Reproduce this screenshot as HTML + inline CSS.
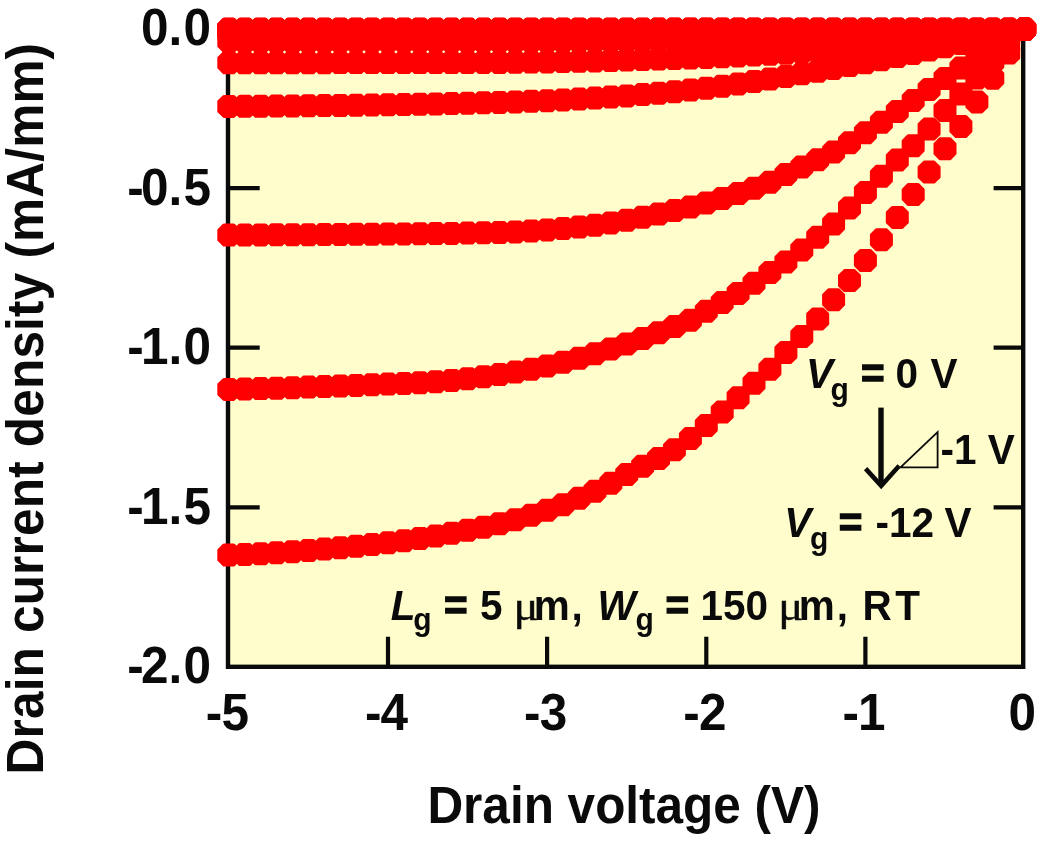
<!DOCTYPE html>
<html lang="en">
<head>
<meta charset="utf-8">
<title>Drain current density vs drain voltage</title>
<style>
html,body{margin:0;padding:0;background:#fff;}
body{width:1050px;height:842px;overflow:hidden;}
svg{display:block;}
</style>
</head>
<body>
<svg width="1050" height="842" viewBox="0 0 1050 842" font-family="'Liberation Sans', Arial, sans-serif"><rect x="0" y="0" width="1050" height="842" fill="#ffffff"/>
<rect x="228.0" y="28.7" width="795.2" height="638.1" fill="#FFFDCB" stroke="#0a0a0a" stroke-width="4.4"/>
<path d="M228.0 188.2h31.7M1023.2 188.2h-29.6M228.0 347.7h31.7M1023.2 347.7h-29.6M228.0 507.3h31.7M1023.2 507.3h-29.6M865.4 666.8v-30M865.4 28.7v30M706.3 666.8v-30M706.3 28.7v30M547.1 666.8v-30M547.1 28.7v30M388.0 666.8v-30M388.0 28.7v30" stroke="#0a0a0a" stroke-width="4.2" fill="none"/>
<g fill="#FE0000" stroke="#FE0000" stroke-width="3.6" stroke-linejoin="round"><path d="M224.0 19.5h9.60l4.90 4.90v9.60l-4.90 4.90h-9.60l-4.90 -4.90v-9.60zM239.9 19.5h9.60l4.90 4.90v9.60l-4.90 4.90h-9.60l-4.90 -4.90v-9.60zM255.8 19.5h9.60l4.90 4.90v9.60l-4.90 4.90h-9.60l-4.90 -4.90v-9.60zM271.7 19.5h9.60l4.90 4.90v9.60l-4.90 4.90h-9.60l-4.90 -4.90v-9.60zM287.7 19.5h9.60l4.90 4.90v9.60l-4.90 4.90h-9.60l-4.90 -4.90v-9.60zM303.6 19.5h9.60l4.90 4.90v9.60l-4.90 4.90h-9.60l-4.90 -4.90v-9.60zM319.5 19.5h9.60l4.90 4.90v9.60l-4.90 4.90h-9.60l-4.90 -4.90v-9.60zM335.4 19.5h9.60l4.90 4.90v9.60l-4.90 4.90h-9.60l-4.90 -4.90v-9.60zM351.3 19.5h9.60l4.90 4.90v9.60l-4.90 4.90h-9.60l-4.90 -4.90v-9.60zM367.2 19.5h9.60l4.90 4.90v9.60l-4.90 4.90h-9.60l-4.90 -4.90v-9.60zM383.2 19.5h9.60l4.90 4.90v9.60l-4.90 4.90h-9.60l-4.90 -4.90v-9.60zM399.1 19.5h9.60l4.90 4.90v9.60l-4.90 4.90h-9.60l-4.90 -4.90v-9.60zM415.0 19.5h9.60l4.90 4.90v9.60l-4.90 4.90h-9.60l-4.90 -4.90v-9.60zM430.9 19.5h9.60l4.90 4.90v9.60l-4.90 4.90h-9.60l-4.90 -4.90v-9.60zM446.8 19.5h9.60l4.90 4.90v9.60l-4.90 4.90h-9.60l-4.90 -4.90v-9.60zM462.7 19.5h9.60l4.90 4.90v9.60l-4.90 4.90h-9.60l-4.90 -4.90v-9.60zM478.7 19.5h9.60l4.90 4.90v9.60l-4.90 4.90h-9.60l-4.90 -4.90v-9.60zM494.6 19.5h9.60l4.90 4.90v9.60l-4.90 4.90h-9.60l-4.90 -4.90v-9.60zM510.5 19.5h9.60l4.90 4.90v9.60l-4.90 4.90h-9.60l-4.90 -4.90v-9.60zM526.4 19.5h9.60l4.90 4.90v9.60l-4.90 4.90h-9.60l-4.90 -4.90v-9.60zM542.3 19.5h9.60l4.90 4.90v9.60l-4.90 4.90h-9.60l-4.90 -4.90v-9.60zM558.2 19.5h9.60l4.90 4.90v9.60l-4.90 4.90h-9.60l-4.90 -4.90v-9.60zM574.2 19.5h9.60l4.90 4.90v9.60l-4.90 4.90h-9.60l-4.90 -4.90v-9.60zM590.1 19.5h9.60l4.90 4.90v9.60l-4.90 4.90h-9.60l-4.90 -4.90v-9.60zM606.0 19.5h9.60l4.90 4.90v9.60l-4.90 4.90h-9.60l-4.90 -4.90v-9.60zM621.9 19.5h9.60l4.90 4.90v9.60l-4.90 4.90h-9.60l-4.90 -4.90v-9.60zM637.8 19.5h9.60l4.90 4.90v9.60l-4.90 4.90h-9.60l-4.90 -4.90v-9.60zM653.7 19.5h9.60l4.90 4.90v9.60l-4.90 4.90h-9.60l-4.90 -4.90v-9.60zM669.6 19.5h9.60l4.90 4.90v9.60l-4.90 4.90h-9.60l-4.90 -4.90v-9.60zM685.6 19.5h9.60l4.90 4.90v9.60l-4.90 4.90h-9.60l-4.90 -4.90v-9.60zM701.5 19.5h9.60l4.90 4.90v9.60l-4.90 4.90h-9.60l-4.90 -4.90v-9.60zM717.4 19.5h9.60l4.90 4.90v9.60l-4.90 4.90h-9.60l-4.90 -4.90v-9.60zM733.3 19.5h9.60l4.90 4.90v9.60l-4.90 4.90h-9.60l-4.90 -4.90v-9.60zM749.2 19.5h9.60l4.90 4.90v9.60l-4.90 4.90h-9.60l-4.90 -4.90v-9.60zM765.1 19.5h9.60l4.90 4.90v9.60l-4.90 4.90h-9.60l-4.90 -4.90v-9.60zM781.1 19.5h9.60l4.90 4.90v9.60l-4.90 4.90h-9.60l-4.90 -4.90v-9.60zM797.0 19.5h9.60l4.90 4.90v9.60l-4.90 4.90h-9.60l-4.90 -4.90v-9.60zM812.9 19.5h9.60l4.90 4.90v9.60l-4.90 4.90h-9.60l-4.90 -4.90v-9.60zM828.8 19.5h9.60l4.90 4.90v9.60l-4.90 4.90h-9.60l-4.90 -4.90v-9.60zM844.7 19.5h9.60l4.90 4.90v9.60l-4.90 4.90h-9.60l-4.90 -4.90v-9.60zM860.6 19.5h9.60l4.90 4.90v9.60l-4.90 4.90h-9.60l-4.90 -4.90v-9.60zM876.6 19.5h9.60l4.90 4.90v9.60l-4.90 4.90h-9.60l-4.90 -4.90v-9.60zM892.5 19.5h9.60l4.90 4.90v9.60l-4.90 4.90h-9.60l-4.90 -4.90v-9.60zM908.4 19.5h9.60l4.90 4.90v9.60l-4.90 4.90h-9.60l-4.90 -4.90v-9.60zM924.3 19.5h9.60l4.90 4.90v9.60l-4.90 4.90h-9.60l-4.90 -4.90v-9.60zM940.2 19.5h9.60l4.90 4.90v9.60l-4.90 4.90h-9.60l-4.90 -4.90v-9.60zM956.1 19.5h9.60l4.90 4.90v9.60l-4.90 4.90h-9.60l-4.90 -4.90v-9.60zM972.1 19.5h9.60l4.90 4.90v9.60l-4.90 4.90h-9.60l-4.90 -4.90v-9.60zM988.0 19.5h9.60l4.90 4.90v9.60l-4.90 4.90h-9.60l-4.90 -4.90v-9.60zM1003.9 19.5h9.60l4.90 4.90v9.60l-4.90 4.90h-9.60l-4.90 -4.90v-9.60zM1019.8 19.5h9.60l4.90 4.90v9.60l-4.90 4.90h-9.60l-4.90 -4.90v-9.60z"/><path d="M224.0 19.5h9.60l4.90 4.90v9.60l-4.90 4.90h-9.60l-4.90 -4.90v-9.60zM239.9 19.5h9.60l4.90 4.90v9.60l-4.90 4.90h-9.60l-4.90 -4.90v-9.60zM255.8 19.5h9.60l4.90 4.90v9.60l-4.90 4.90h-9.60l-4.90 -4.90v-9.60zM271.7 19.5h9.60l4.90 4.90v9.60l-4.90 4.90h-9.60l-4.90 -4.90v-9.60zM287.7 19.5h9.60l4.90 4.90v9.60l-4.90 4.90h-9.60l-4.90 -4.90v-9.60zM303.6 19.5h9.60l4.90 4.90v9.60l-4.90 4.90h-9.60l-4.90 -4.90v-9.60zM319.5 19.5h9.60l4.90 4.90v9.60l-4.90 4.90h-9.60l-4.90 -4.90v-9.60zM335.4 19.5h9.60l4.90 4.90v9.60l-4.90 4.90h-9.60l-4.90 -4.90v-9.60zM351.3 19.5h9.60l4.90 4.90v9.60l-4.90 4.90h-9.60l-4.90 -4.90v-9.60zM367.2 19.5h9.60l4.90 4.90v9.60l-4.90 4.90h-9.60l-4.90 -4.90v-9.60zM383.2 19.5h9.60l4.90 4.90v9.60l-4.90 4.90h-9.60l-4.90 -4.90v-9.60zM399.1 19.5h9.60l4.90 4.90v9.60l-4.90 4.90h-9.60l-4.90 -4.90v-9.60zM415.0 19.5h9.60l4.90 4.90v9.60l-4.90 4.90h-9.60l-4.90 -4.90v-9.60zM430.9 19.5h9.60l4.90 4.90v9.60l-4.90 4.90h-9.60l-4.90 -4.90v-9.60zM446.8 19.5h9.60l4.90 4.90v9.60l-4.90 4.90h-9.60l-4.90 -4.90v-9.60zM462.7 19.5h9.60l4.90 4.90v9.60l-4.90 4.90h-9.60l-4.90 -4.90v-9.60zM478.7 19.5h9.60l4.90 4.90v9.60l-4.90 4.90h-9.60l-4.90 -4.90v-9.60zM494.6 19.5h9.60l4.90 4.90v9.60l-4.90 4.90h-9.60l-4.90 -4.90v-9.60zM510.5 19.5h9.60l4.90 4.90v9.60l-4.90 4.90h-9.60l-4.90 -4.90v-9.60zM526.4 19.5h9.60l4.90 4.90v9.60l-4.90 4.90h-9.60l-4.90 -4.90v-9.60zM542.3 19.5h9.60l4.90 4.90v9.60l-4.90 4.90h-9.60l-4.90 -4.90v-9.60zM558.2 19.5h9.60l4.90 4.90v9.60l-4.90 4.90h-9.60l-4.90 -4.90v-9.60zM574.2 19.5h9.60l4.90 4.90v9.60l-4.90 4.90h-9.60l-4.90 -4.90v-9.60zM590.1 19.5h9.60l4.90 4.90v9.60l-4.90 4.90h-9.60l-4.90 -4.90v-9.60zM606.0 19.5h9.60l4.90 4.90v9.60l-4.90 4.90h-9.60l-4.90 -4.90v-9.60zM621.9 19.5h9.60l4.90 4.90v9.60l-4.90 4.90h-9.60l-4.90 -4.90v-9.60zM637.8 19.5h9.60l4.90 4.90v9.60l-4.90 4.90h-9.60l-4.90 -4.90v-9.60zM653.7 19.5h9.60l4.90 4.90v9.60l-4.90 4.90h-9.60l-4.90 -4.90v-9.60zM669.6 19.5h9.60l4.90 4.90v9.60l-4.90 4.90h-9.60l-4.90 -4.90v-9.60zM685.6 19.5h9.60l4.90 4.90v9.60l-4.90 4.90h-9.60l-4.90 -4.90v-9.60zM701.5 19.5h9.60l4.90 4.90v9.60l-4.90 4.90h-9.60l-4.90 -4.90v-9.60zM717.4 19.5h9.60l4.90 4.90v9.60l-4.90 4.90h-9.60l-4.90 -4.90v-9.60zM733.3 19.5h9.60l4.90 4.90v9.60l-4.90 4.90h-9.60l-4.90 -4.90v-9.60zM749.2 19.5h9.60l4.90 4.90v9.60l-4.90 4.90h-9.60l-4.90 -4.90v-9.60zM765.1 19.5h9.60l4.90 4.90v9.60l-4.90 4.90h-9.60l-4.90 -4.90v-9.60zM781.1 19.5h9.60l4.90 4.90v9.60l-4.90 4.90h-9.60l-4.90 -4.90v-9.60zM797.0 19.5h9.60l4.90 4.90v9.60l-4.90 4.90h-9.60l-4.90 -4.90v-9.60zM812.9 19.5h9.60l4.90 4.90v9.60l-4.90 4.90h-9.60l-4.90 -4.90v-9.60zM828.8 19.5h9.60l4.90 4.90v9.60l-4.90 4.90h-9.60l-4.90 -4.90v-9.60zM844.7 19.5h9.60l4.90 4.90v9.60l-4.90 4.90h-9.60l-4.90 -4.90v-9.60zM860.6 19.5h9.60l4.90 4.90v9.60l-4.90 4.90h-9.60l-4.90 -4.90v-9.60zM876.6 19.5h9.60l4.90 4.90v9.60l-4.90 4.90h-9.60l-4.90 -4.90v-9.60zM892.5 19.5h9.60l4.90 4.90v9.60l-4.90 4.90h-9.60l-4.90 -4.90v-9.60zM908.4 19.5h9.60l4.90 4.90v9.60l-4.90 4.90h-9.60l-4.90 -4.90v-9.60zM924.3 19.5h9.60l4.90 4.90v9.60l-4.90 4.90h-9.60l-4.90 -4.90v-9.60zM940.2 19.5h9.60l4.90 4.90v9.60l-4.90 4.90h-9.60l-4.90 -4.90v-9.60zM956.1 19.5h9.60l4.90 4.90v9.60l-4.90 4.90h-9.60l-4.90 -4.90v-9.60zM972.1 19.5h9.60l4.90 4.90v9.60l-4.90 4.90h-9.60l-4.90 -4.90v-9.60zM988.0 19.5h9.60l4.90 4.90v9.60l-4.90 4.90h-9.60l-4.90 -4.90v-9.60zM1003.9 19.5h9.60l4.90 4.90v9.60l-4.90 4.90h-9.60l-4.90 -4.90v-9.60zM1019.8 19.5h9.60l4.90 4.90v9.60l-4.90 4.90h-9.60l-4.90 -4.90v-9.60z"/><path d="M224.0 19.5h9.60l4.90 4.90v9.60l-4.90 4.90h-9.60l-4.90 -4.90v-9.60zM239.9 19.5h9.60l4.90 4.90v9.60l-4.90 4.90h-9.60l-4.90 -4.90v-9.60zM255.8 19.5h9.60l4.90 4.90v9.60l-4.90 4.90h-9.60l-4.90 -4.90v-9.60zM271.7 19.5h9.60l4.90 4.90v9.60l-4.90 4.90h-9.60l-4.90 -4.90v-9.60zM287.7 19.5h9.60l4.90 4.90v9.60l-4.90 4.90h-9.60l-4.90 -4.90v-9.60zM303.6 19.5h9.60l4.90 4.90v9.60l-4.90 4.90h-9.60l-4.90 -4.90v-9.60zM319.5 19.5h9.60l4.90 4.90v9.60l-4.90 4.90h-9.60l-4.90 -4.90v-9.60zM335.4 19.5h9.60l4.90 4.90v9.60l-4.90 4.90h-9.60l-4.90 -4.90v-9.60zM351.3 19.5h9.60l4.90 4.90v9.60l-4.90 4.90h-9.60l-4.90 -4.90v-9.60zM367.2 19.5h9.60l4.90 4.90v9.60l-4.90 4.90h-9.60l-4.90 -4.90v-9.60zM383.2 19.5h9.60l4.90 4.90v9.60l-4.90 4.90h-9.60l-4.90 -4.90v-9.60zM399.1 19.5h9.60l4.90 4.90v9.60l-4.90 4.90h-9.60l-4.90 -4.90v-9.60zM415.0 19.5h9.60l4.90 4.90v9.60l-4.90 4.90h-9.60l-4.90 -4.90v-9.60zM430.9 19.5h9.60l4.90 4.90v9.60l-4.90 4.90h-9.60l-4.90 -4.90v-9.60zM446.8 19.5h9.60l4.90 4.90v9.60l-4.90 4.90h-9.60l-4.90 -4.90v-9.60zM462.7 19.5h9.60l4.90 4.90v9.60l-4.90 4.90h-9.60l-4.90 -4.90v-9.60zM478.7 19.5h9.60l4.90 4.90v9.60l-4.90 4.90h-9.60l-4.90 -4.90v-9.60zM494.6 19.5h9.60l4.90 4.90v9.60l-4.90 4.90h-9.60l-4.90 -4.90v-9.60zM510.5 19.5h9.60l4.90 4.90v9.60l-4.90 4.90h-9.60l-4.90 -4.90v-9.60zM526.4 19.5h9.60l4.90 4.90v9.60l-4.90 4.90h-9.60l-4.90 -4.90v-9.60zM542.3 19.5h9.60l4.90 4.90v9.60l-4.90 4.90h-9.60l-4.90 -4.90v-9.60zM558.2 19.5h9.60l4.90 4.90v9.60l-4.90 4.90h-9.60l-4.90 -4.90v-9.60zM574.2 19.5h9.60l4.90 4.90v9.60l-4.90 4.90h-9.60l-4.90 -4.90v-9.60zM590.1 19.5h9.60l4.90 4.90v9.60l-4.90 4.90h-9.60l-4.90 -4.90v-9.60zM606.0 19.5h9.60l4.90 4.90v9.60l-4.90 4.90h-9.60l-4.90 -4.90v-9.60zM621.9 19.5h9.60l4.90 4.90v9.60l-4.90 4.90h-9.60l-4.90 -4.90v-9.60zM637.8 19.5h9.60l4.90 4.90v9.60l-4.90 4.90h-9.60l-4.90 -4.90v-9.60zM653.7 19.5h9.60l4.90 4.90v9.60l-4.90 4.90h-9.60l-4.90 -4.90v-9.60zM669.6 19.5h9.60l4.90 4.90v9.60l-4.90 4.90h-9.60l-4.90 -4.90v-9.60zM685.6 19.5h9.60l4.90 4.90v9.60l-4.90 4.90h-9.60l-4.90 -4.90v-9.60zM701.5 19.5h9.60l4.90 4.90v9.60l-4.90 4.90h-9.60l-4.90 -4.90v-9.60zM717.4 19.5h9.60l4.90 4.90v9.60l-4.90 4.90h-9.60l-4.90 -4.90v-9.60zM733.3 19.5h9.60l4.90 4.90v9.60l-4.90 4.90h-9.60l-4.90 -4.90v-9.60zM749.2 19.5h9.60l4.90 4.90v9.60l-4.90 4.90h-9.60l-4.90 -4.90v-9.60zM765.1 19.5h9.60l4.90 4.90v9.60l-4.90 4.90h-9.60l-4.90 -4.90v-9.60zM781.1 19.5h9.60l4.90 4.90v9.60l-4.90 4.90h-9.60l-4.90 -4.90v-9.60zM797.0 19.5h9.60l4.90 4.90v9.60l-4.90 4.90h-9.60l-4.90 -4.90v-9.60zM812.9 19.5h9.60l4.90 4.90v9.60l-4.90 4.90h-9.60l-4.90 -4.90v-9.60zM828.8 19.5h9.60l4.90 4.90v9.60l-4.90 4.90h-9.60l-4.90 -4.90v-9.60zM844.7 19.5h9.60l4.90 4.90v9.60l-4.90 4.90h-9.60l-4.90 -4.90v-9.60zM860.6 19.5h9.60l4.90 4.90v9.60l-4.90 4.90h-9.60l-4.90 -4.90v-9.60zM876.6 19.5h9.60l4.90 4.90v9.60l-4.90 4.90h-9.60l-4.90 -4.90v-9.60zM892.5 19.5h9.60l4.90 4.90v9.60l-4.90 4.90h-9.60l-4.90 -4.90v-9.60zM908.4 19.5h9.60l4.90 4.90v9.60l-4.90 4.90h-9.60l-4.90 -4.90v-9.60zM924.3 19.5h9.60l4.90 4.90v9.60l-4.90 4.90h-9.60l-4.90 -4.90v-9.60zM940.2 19.5h9.60l4.90 4.90v9.60l-4.90 4.90h-9.60l-4.90 -4.90v-9.60zM956.1 19.5h9.60l4.90 4.90v9.60l-4.90 4.90h-9.60l-4.90 -4.90v-9.60zM972.1 19.5h9.60l4.90 4.90v9.60l-4.90 4.90h-9.60l-4.90 -4.90v-9.60zM988.0 19.5h9.60l4.90 4.90v9.60l-4.90 4.90h-9.60l-4.90 -4.90v-9.60zM1003.9 19.5h9.60l4.90 4.90v9.60l-4.90 4.90h-9.60l-4.90 -4.90v-9.60zM1019.8 19.5h9.60l4.90 4.90v9.60l-4.90 4.90h-9.60l-4.90 -4.90v-9.60z"/><path d="M224.0 19.8h9.60l4.90 4.90v9.60l-4.90 4.90h-9.60l-4.90 -4.90v-9.60zM239.9 19.8h9.60l4.90 4.90v9.60l-4.90 4.90h-9.60l-4.90 -4.90v-9.60zM255.8 19.8h9.60l4.90 4.90v9.60l-4.90 4.90h-9.60l-4.90 -4.90v-9.60zM271.7 19.8h9.60l4.90 4.90v9.60l-4.90 4.90h-9.60l-4.90 -4.90v-9.60zM287.7 19.8h9.60l4.90 4.90v9.60l-4.90 4.90h-9.60l-4.90 -4.90v-9.60zM303.6 19.8h9.60l4.90 4.90v9.60l-4.90 4.90h-9.60l-4.90 -4.90v-9.60zM319.5 19.8h9.60l4.90 4.90v9.60l-4.90 4.90h-9.60l-4.90 -4.90v-9.60zM335.4 19.8h9.60l4.90 4.90v9.60l-4.90 4.90h-9.60l-4.90 -4.90v-9.60zM351.3 19.8h9.60l4.90 4.90v9.60l-4.90 4.90h-9.60l-4.90 -4.90v-9.60zM367.2 19.8h9.60l4.90 4.90v9.60l-4.90 4.90h-9.60l-4.90 -4.90v-9.60zM383.2 19.8h9.60l4.90 4.90v9.60l-4.90 4.90h-9.60l-4.90 -4.90v-9.60zM399.1 19.7h9.60l4.90 4.90v9.60l-4.90 4.90h-9.60l-4.90 -4.90v-9.60zM415.0 19.7h9.60l4.90 4.90v9.60l-4.90 4.90h-9.60l-4.90 -4.90v-9.60zM430.9 19.7h9.60l4.90 4.90v9.60l-4.90 4.90h-9.60l-4.90 -4.90v-9.60zM446.8 19.7h9.60l4.90 4.90v9.60l-4.90 4.90h-9.60l-4.90 -4.90v-9.60zM462.7 19.7h9.60l4.90 4.90v9.60l-4.90 4.90h-9.60l-4.90 -4.90v-9.60zM478.7 19.7h9.60l4.90 4.90v9.60l-4.90 4.90h-9.60l-4.90 -4.90v-9.60zM494.6 19.7h9.60l4.90 4.90v9.60l-4.90 4.90h-9.60l-4.90 -4.90v-9.60zM510.5 19.7h9.60l4.90 4.90v9.60l-4.90 4.90h-9.60l-4.90 -4.90v-9.60zM526.4 19.7h9.60l4.90 4.90v9.60l-4.90 4.90h-9.60l-4.90 -4.90v-9.60zM542.3 19.7h9.60l4.90 4.90v9.60l-4.90 4.90h-9.60l-4.90 -4.90v-9.60zM558.2 19.7h9.60l4.90 4.90v9.60l-4.90 4.90h-9.60l-4.90 -4.90v-9.60zM574.2 19.7h9.60l4.90 4.90v9.60l-4.90 4.90h-9.60l-4.90 -4.90v-9.60zM590.1 19.7h9.60l4.90 4.90v9.60l-4.90 4.90h-9.60l-4.90 -4.90v-9.60zM606.0 19.7h9.60l4.90 4.90v9.60l-4.90 4.90h-9.60l-4.90 -4.90v-9.60zM621.9 19.7h9.60l4.90 4.90v9.60l-4.90 4.90h-9.60l-4.90 -4.90v-9.60zM637.8 19.7h9.60l4.90 4.90v9.60l-4.90 4.90h-9.60l-4.90 -4.90v-9.60zM653.7 19.6h9.60l4.90 4.90v9.60l-4.90 4.90h-9.60l-4.90 -4.90v-9.60zM669.6 19.6h9.60l4.90 4.90v9.60l-4.90 4.90h-9.60l-4.90 -4.90v-9.60zM685.6 19.6h9.60l4.90 4.90v9.60l-4.90 4.90h-9.60l-4.90 -4.90v-9.60zM701.5 19.6h9.60l4.90 4.90v9.60l-4.90 4.90h-9.60l-4.90 -4.90v-9.60zM717.4 19.6h9.60l4.90 4.90v9.60l-4.90 4.90h-9.60l-4.90 -4.90v-9.60zM733.3 19.6h9.60l4.90 4.90v9.60l-4.90 4.90h-9.60l-4.90 -4.90v-9.60zM749.2 19.6h9.60l4.90 4.90v9.60l-4.90 4.90h-9.60l-4.90 -4.90v-9.60zM765.1 19.6h9.60l4.90 4.90v9.60l-4.90 4.90h-9.60l-4.90 -4.90v-9.60zM781.1 19.6h9.60l4.90 4.90v9.60l-4.90 4.90h-9.60l-4.90 -4.90v-9.60zM797.0 19.6h9.60l4.90 4.90v9.60l-4.90 4.90h-9.60l-4.90 -4.90v-9.60zM812.9 19.6h9.60l4.90 4.90v9.60l-4.90 4.90h-9.60l-4.90 -4.90v-9.60zM828.8 19.6h9.60l4.90 4.90v9.60l-4.90 4.90h-9.60l-4.90 -4.90v-9.60zM844.7 19.6h9.60l4.90 4.90v9.60l-4.90 4.90h-9.60l-4.90 -4.90v-9.60zM860.6 19.6h9.60l4.90 4.90v9.60l-4.90 4.90h-9.60l-4.90 -4.90v-9.60zM876.6 19.6h9.60l4.90 4.90v9.60l-4.90 4.90h-9.60l-4.90 -4.90v-9.60zM892.5 19.6h9.60l4.90 4.90v9.60l-4.90 4.90h-9.60l-4.90 -4.90v-9.60zM908.4 19.5h9.60l4.90 4.90v9.60l-4.90 4.90h-9.60l-4.90 -4.90v-9.60zM924.3 19.5h9.60l4.90 4.90v9.60l-4.90 4.90h-9.60l-4.90 -4.90v-9.60zM940.2 19.5h9.60l4.90 4.90v9.60l-4.90 4.90h-9.60l-4.90 -4.90v-9.60zM956.1 19.5h9.60l4.90 4.90v9.60l-4.90 4.90h-9.60l-4.90 -4.90v-9.60zM972.1 19.5h9.60l4.90 4.90v9.60l-4.90 4.90h-9.60l-4.90 -4.90v-9.60zM988.0 19.5h9.60l4.90 4.90v9.60l-4.90 4.90h-9.60l-4.90 -4.90v-9.60zM1003.9 19.5h9.60l4.90 4.90v9.60l-4.90 4.90h-9.60l-4.90 -4.90v-9.60zM1019.8 19.5h9.60l4.90 4.90v9.60l-4.90 4.90h-9.60l-4.90 -4.90v-9.60z"/><path d="M224.0 20.1h9.60l4.90 4.90v9.60l-4.90 4.90h-9.60l-4.90 -4.90v-9.60zM239.9 20.1h9.60l4.90 4.90v9.60l-4.90 4.90h-9.60l-4.90 -4.90v-9.60zM255.8 20.1h9.60l4.90 4.90v9.60l-4.90 4.90h-9.60l-4.90 -4.90v-9.60zM271.7 20.1h9.60l4.90 4.90v9.60l-4.90 4.90h-9.60l-4.90 -4.90v-9.60zM287.7 20.1h9.60l4.90 4.90v9.60l-4.90 4.90h-9.60l-4.90 -4.90v-9.60zM303.6 20.1h9.60l4.90 4.90v9.60l-4.90 4.90h-9.60l-4.90 -4.90v-9.60zM319.5 20.1h9.60l4.90 4.90v9.60l-4.90 4.90h-9.60l-4.90 -4.90v-9.60zM335.4 20.1h9.60l4.90 4.90v9.60l-4.90 4.90h-9.60l-4.90 -4.90v-9.60zM351.3 20.1h9.60l4.90 4.90v9.60l-4.90 4.90h-9.60l-4.90 -4.90v-9.60zM367.2 20.1h9.60l4.90 4.90v9.60l-4.90 4.90h-9.60l-4.90 -4.90v-9.60zM383.2 20.1h9.60l4.90 4.90v9.60l-4.90 4.90h-9.60l-4.90 -4.90v-9.60zM399.1 20.1h9.60l4.90 4.90v9.60l-4.90 4.90h-9.60l-4.90 -4.90v-9.60zM415.0 20.1h9.60l4.90 4.90v9.60l-4.90 4.90h-9.60l-4.90 -4.90v-9.60zM430.9 20.1h9.60l4.90 4.90v9.60l-4.90 4.90h-9.60l-4.90 -4.90v-9.60zM446.8 20.1h9.60l4.90 4.90v9.60l-4.90 4.90h-9.60l-4.90 -4.90v-9.60zM462.7 20.1h9.60l4.90 4.90v9.60l-4.90 4.90h-9.60l-4.90 -4.90v-9.60zM478.7 20.1h9.60l4.90 4.90v9.60l-4.90 4.90h-9.60l-4.90 -4.90v-9.60zM494.6 20.1h9.60l4.90 4.90v9.60l-4.90 4.90h-9.60l-4.90 -4.90v-9.60zM510.5 20.1h9.60l4.90 4.90v9.60l-4.90 4.90h-9.60l-4.90 -4.90v-9.60zM526.4 20.1h9.60l4.90 4.90v9.60l-4.90 4.90h-9.60l-4.90 -4.90v-9.60zM542.3 20.1h9.60l4.90 4.90v9.60l-4.90 4.90h-9.60l-4.90 -4.90v-9.60zM558.2 20.1h9.60l4.90 4.90v9.60l-4.90 4.90h-9.60l-4.90 -4.90v-9.60zM574.2 20.1h9.60l4.90 4.90v9.60l-4.90 4.90h-9.60l-4.90 -4.90v-9.60zM590.1 20.1h9.60l4.90 4.90v9.60l-4.90 4.90h-9.60l-4.90 -4.90v-9.60zM606.0 20.1h9.60l4.90 4.90v9.60l-4.90 4.90h-9.60l-4.90 -4.90v-9.60zM621.9 20.1h9.60l4.90 4.90v9.60l-4.90 4.90h-9.60l-4.90 -4.90v-9.60zM637.8 20.1h9.60l4.90 4.90v9.60l-4.90 4.90h-9.60l-4.90 -4.90v-9.60zM653.7 20.1h9.60l4.90 4.90v9.60l-4.90 4.90h-9.60l-4.90 -4.90v-9.60zM669.6 20.1h9.60l4.90 4.90v9.60l-4.90 4.90h-9.60l-4.90 -4.90v-9.60zM685.6 20.1h9.60l4.90 4.90v9.60l-4.90 4.90h-9.60l-4.90 -4.90v-9.60zM701.5 20.1h9.60l4.90 4.90v9.60l-4.90 4.90h-9.60l-4.90 -4.90v-9.60zM717.4 20.1h9.60l4.90 4.90v9.60l-4.90 4.90h-9.60l-4.90 -4.90v-9.60zM733.3 20.1h9.60l4.90 4.90v9.60l-4.90 4.90h-9.60l-4.90 -4.90v-9.60zM749.2 20.1h9.60l4.90 4.90v9.60l-4.90 4.90h-9.60l-4.90 -4.90v-9.60zM765.1 20.1h9.60l4.90 4.90v9.60l-4.90 4.90h-9.60l-4.90 -4.90v-9.60zM781.1 20.1h9.60l4.90 4.90v9.60l-4.90 4.90h-9.60l-4.90 -4.90v-9.60zM797.0 20.1h9.60l4.90 4.90v9.60l-4.90 4.90h-9.60l-4.90 -4.90v-9.60zM812.9 20.0h9.60l4.90 4.90v9.60l-4.90 4.90h-9.60l-4.90 -4.90v-9.60zM828.8 20.0h9.60l4.90 4.90v9.60l-4.90 4.90h-9.60l-4.90 -4.90v-9.60zM844.7 20.0h9.60l4.90 4.90v9.60l-4.90 4.90h-9.60l-4.90 -4.90v-9.60zM860.6 19.9h9.60l4.90 4.90v9.60l-4.90 4.90h-9.60l-4.90 -4.90v-9.60zM876.6 19.9h9.60l4.90 4.90v9.60l-4.90 4.90h-9.60l-4.90 -4.90v-9.60zM892.5 19.9h9.60l4.90 4.90v9.60l-4.90 4.90h-9.60l-4.90 -4.90v-9.60zM908.4 19.8h9.60l4.90 4.90v9.60l-4.90 4.90h-9.60l-4.90 -4.90v-9.60zM924.3 19.8h9.60l4.90 4.90v9.60l-4.90 4.90h-9.60l-4.90 -4.90v-9.60zM940.2 19.7h9.60l4.90 4.90v9.60l-4.90 4.90h-9.60l-4.90 -4.90v-9.60zM956.1 19.7h9.60l4.90 4.90v9.60l-4.90 4.90h-9.60l-4.90 -4.90v-9.60zM972.1 19.6h9.60l4.90 4.90v9.60l-4.90 4.90h-9.60l-4.90 -4.90v-9.60zM988.0 19.6h9.60l4.90 4.90v9.60l-4.90 4.90h-9.60l-4.90 -4.90v-9.60zM1003.9 19.5h9.60l4.90 4.90v9.60l-4.90 4.90h-9.60l-4.90 -4.90v-9.60zM1019.8 19.5h9.60l4.90 4.90v9.60l-4.90 4.90h-9.60l-4.90 -4.90v-9.60z"/><path d="M224.0 21.1h9.60l4.90 4.90v9.60l-4.90 4.90h-9.60l-4.90 -4.90v-9.60zM239.9 21.1h9.60l4.90 4.90v9.60l-4.90 4.90h-9.60l-4.90 -4.90v-9.60zM255.8 21.1h9.60l4.90 4.90v9.60l-4.90 4.90h-9.60l-4.90 -4.90v-9.60zM271.7 21.1h9.60l4.90 4.90v9.60l-4.90 4.90h-9.60l-4.90 -4.90v-9.60zM287.7 21.1h9.60l4.90 4.90v9.60l-4.90 4.90h-9.60l-4.90 -4.90v-9.60zM303.6 21.1h9.60l4.90 4.90v9.60l-4.90 4.90h-9.60l-4.90 -4.90v-9.60zM319.5 21.1h9.60l4.90 4.90v9.60l-4.90 4.90h-9.60l-4.90 -4.90v-9.60zM335.4 21.1h9.60l4.90 4.90v9.60l-4.90 4.90h-9.60l-4.90 -4.90v-9.60zM351.3 21.1h9.60l4.90 4.90v9.60l-4.90 4.90h-9.60l-4.90 -4.90v-9.60zM367.2 21.1h9.60l4.90 4.90v9.60l-4.90 4.90h-9.60l-4.90 -4.90v-9.60zM383.2 21.1h9.60l4.90 4.90v9.60l-4.90 4.90h-9.60l-4.90 -4.90v-9.60zM399.1 21.0h9.60l4.90 4.90v9.60l-4.90 4.90h-9.60l-4.90 -4.90v-9.60zM415.0 21.0h9.60l4.90 4.90v9.60l-4.90 4.90h-9.60l-4.90 -4.90v-9.60zM430.9 21.0h9.60l4.90 4.90v9.60l-4.90 4.90h-9.60l-4.90 -4.90v-9.60zM446.8 21.0h9.60l4.90 4.90v9.60l-4.90 4.90h-9.60l-4.90 -4.90v-9.60zM462.7 21.0h9.60l4.90 4.90v9.60l-4.90 4.90h-9.60l-4.90 -4.90v-9.60zM478.7 21.0h9.60l4.90 4.90v9.60l-4.90 4.90h-9.60l-4.90 -4.90v-9.60zM494.6 21.0h9.60l4.90 4.90v9.60l-4.90 4.90h-9.60l-4.90 -4.90v-9.60zM510.5 21.0h9.60l4.90 4.90v9.60l-4.90 4.90h-9.60l-4.90 -4.90v-9.60zM526.4 21.0h9.60l4.90 4.90v9.60l-4.90 4.90h-9.60l-4.90 -4.90v-9.60zM542.3 20.9h9.60l4.90 4.90v9.60l-4.90 4.90h-9.60l-4.90 -4.90v-9.60zM558.2 20.9h9.60l4.90 4.90v9.60l-4.90 4.90h-9.60l-4.90 -4.90v-9.60zM574.2 20.9h9.60l4.90 4.90v9.60l-4.90 4.90h-9.60l-4.90 -4.90v-9.60zM590.1 20.9h9.60l4.90 4.90v9.60l-4.90 4.90h-9.60l-4.90 -4.90v-9.60zM606.0 20.9h9.60l4.90 4.90v9.60l-4.90 4.90h-9.60l-4.90 -4.90v-9.60zM621.9 20.9h9.60l4.90 4.90v9.60l-4.90 4.90h-9.60l-4.90 -4.90v-9.60zM637.8 20.8h9.60l4.90 4.90v9.60l-4.90 4.90h-9.60l-4.90 -4.90v-9.60zM653.7 20.8h9.60l4.90 4.90v9.60l-4.90 4.90h-9.60l-4.90 -4.90v-9.60zM669.6 20.8h9.60l4.90 4.90v9.60l-4.90 4.90h-9.60l-4.90 -4.90v-9.60zM685.6 20.8h9.60l4.90 4.90v9.60l-4.90 4.90h-9.60l-4.90 -4.90v-9.60zM701.5 20.8h9.60l4.90 4.90v9.60l-4.90 4.90h-9.60l-4.90 -4.90v-9.60zM717.4 20.8h9.60l4.90 4.90v9.60l-4.90 4.90h-9.60l-4.90 -4.90v-9.60zM733.3 20.7h9.60l4.90 4.90v9.60l-4.90 4.90h-9.60l-4.90 -4.90v-9.60zM749.2 20.7h9.60l4.90 4.90v9.60l-4.90 4.90h-9.60l-4.90 -4.90v-9.60zM765.1 20.6h9.60l4.90 4.90v9.60l-4.90 4.90h-9.60l-4.90 -4.90v-9.60zM781.1 20.6h9.60l4.90 4.90v9.60l-4.90 4.90h-9.60l-4.90 -4.90v-9.60zM797.0 20.6h9.60l4.90 4.90v9.60l-4.90 4.90h-9.60l-4.90 -4.90v-9.60zM812.9 20.5h9.60l4.90 4.90v9.60l-4.90 4.90h-9.60l-4.90 -4.90v-9.60zM828.8 20.4h9.60l4.90 4.90v9.60l-4.90 4.90h-9.60l-4.90 -4.90v-9.60zM844.7 20.4h9.60l4.90 4.90v9.60l-4.90 4.90h-9.60l-4.90 -4.90v-9.60zM860.6 20.3h9.60l4.90 4.90v9.60l-4.90 4.90h-9.60l-4.90 -4.90v-9.60zM876.6 20.2h9.60l4.90 4.90v9.60l-4.90 4.90h-9.60l-4.90 -4.90v-9.60zM892.5 20.2h9.60l4.90 4.90v9.60l-4.90 4.90h-9.60l-4.90 -4.90v-9.60zM908.4 20.1h9.60l4.90 4.90v9.60l-4.90 4.90h-9.60l-4.90 -4.90v-9.60zM924.3 20.0h9.60l4.90 4.90v9.60l-4.90 4.90h-9.60l-4.90 -4.90v-9.60zM940.2 19.9h9.60l4.90 4.90v9.60l-4.90 4.90h-9.60l-4.90 -4.90v-9.60zM956.1 19.8h9.60l4.90 4.90v9.60l-4.90 4.90h-9.60l-4.90 -4.90v-9.60zM972.1 19.8h9.60l4.90 4.90v9.60l-4.90 4.90h-9.60l-4.90 -4.90v-9.60zM988.0 19.7h9.60l4.90 4.90v9.60l-4.90 4.90h-9.60l-4.90 -4.90v-9.60zM1003.9 19.6h9.60l4.90 4.90v9.60l-4.90 4.90h-9.60l-4.90 -4.90v-9.60zM1019.8 19.5h9.60l4.90 4.90v9.60l-4.90 4.90h-9.60l-4.90 -4.90v-9.60z"/><path d="M224.0 23.6h9.60l4.90 4.90v9.60l-4.90 4.90h-9.60l-4.90 -4.90v-9.60zM239.9 23.6h9.60l4.90 4.90v9.60l-4.90 4.90h-9.60l-4.90 -4.90v-9.60zM255.8 23.6h9.60l4.90 4.90v9.60l-4.90 4.90h-9.60l-4.90 -4.90v-9.60zM271.7 23.6h9.60l4.90 4.90v9.60l-4.90 4.90h-9.60l-4.90 -4.90v-9.60zM287.7 23.6h9.60l4.90 4.90v9.60l-4.90 4.90h-9.60l-4.90 -4.90v-9.60zM303.6 23.6h9.60l4.90 4.90v9.60l-4.90 4.90h-9.60l-4.90 -4.90v-9.60zM319.5 23.6h9.60l4.90 4.90v9.60l-4.90 4.90h-9.60l-4.90 -4.90v-9.60zM335.4 23.6h9.60l4.90 4.90v9.60l-4.90 4.90h-9.60l-4.90 -4.90v-9.60zM351.3 23.6h9.60l4.90 4.90v9.60l-4.90 4.90h-9.60l-4.90 -4.90v-9.60zM367.2 23.6h9.60l4.90 4.90v9.60l-4.90 4.90h-9.60l-4.90 -4.90v-9.60zM383.2 23.6h9.60l4.90 4.90v9.60l-4.90 4.90h-9.60l-4.90 -4.90v-9.60zM399.1 23.6h9.60l4.90 4.90v9.60l-4.90 4.90h-9.60l-4.90 -4.90v-9.60zM415.0 23.6h9.60l4.90 4.90v9.60l-4.90 4.90h-9.60l-4.90 -4.90v-9.60zM430.9 23.6h9.60l4.90 4.90v9.60l-4.90 4.90h-9.60l-4.90 -4.90v-9.60zM446.8 23.6h9.60l4.90 4.90v9.60l-4.90 4.90h-9.60l-4.90 -4.90v-9.60zM462.7 23.6h9.60l4.90 4.90v9.60l-4.90 4.90h-9.60l-4.90 -4.90v-9.60zM478.7 23.6h9.60l4.90 4.90v9.60l-4.90 4.90h-9.60l-4.90 -4.90v-9.60zM494.6 23.6h9.60l4.90 4.90v9.60l-4.90 4.90h-9.60l-4.90 -4.90v-9.60zM510.5 23.5h9.60l4.90 4.90v9.60l-4.90 4.90h-9.60l-4.90 -4.90v-9.60zM526.4 23.5h9.60l4.90 4.90v9.60l-4.90 4.90h-9.60l-4.90 -4.90v-9.60zM542.3 23.5h9.60l4.90 4.90v9.60l-4.90 4.90h-9.60l-4.90 -4.90v-9.60zM558.2 23.5h9.60l4.90 4.90v9.60l-4.90 4.90h-9.60l-4.90 -4.90v-9.60zM574.2 23.5h9.60l4.90 4.90v9.60l-4.90 4.90h-9.60l-4.90 -4.90v-9.60zM590.1 23.5h9.60l4.90 4.90v9.60l-4.90 4.90h-9.60l-4.90 -4.90v-9.60zM606.0 23.4h9.60l4.90 4.90v9.60l-4.90 4.90h-9.60l-4.90 -4.90v-9.60zM621.9 23.4h9.60l4.90 4.90v9.60l-4.90 4.90h-9.60l-4.90 -4.90v-9.60zM637.8 23.4h9.60l4.90 4.90v9.60l-4.90 4.90h-9.60l-4.90 -4.90v-9.60zM653.7 23.4h9.60l4.90 4.90v9.60l-4.90 4.90h-9.60l-4.90 -4.90v-9.60zM669.6 23.4h9.60l4.90 4.90v9.60l-4.90 4.90h-9.60l-4.90 -4.90v-9.60zM685.6 23.4h9.60l4.90 4.90v9.60l-4.90 4.90h-9.60l-4.90 -4.90v-9.60zM701.5 23.3h9.60l4.90 4.90v9.60l-4.90 4.90h-9.60l-4.90 -4.90v-9.60zM717.4 23.3h9.60l4.90 4.90v9.60l-4.90 4.90h-9.60l-4.90 -4.90v-9.60zM733.3 23.2h9.60l4.90 4.90v9.60l-4.90 4.90h-9.60l-4.90 -4.90v-9.60zM749.2 23.1h9.60l4.90 4.90v9.60l-4.90 4.90h-9.60l-4.90 -4.90v-9.60zM765.1 23.0h9.60l4.90 4.90v9.60l-4.90 4.90h-9.60l-4.90 -4.90v-9.60zM781.1 22.9h9.60l4.90 4.90v9.60l-4.90 4.90h-9.60l-4.90 -4.90v-9.60zM797.0 22.7h9.60l4.90 4.90v9.60l-4.90 4.90h-9.60l-4.90 -4.90v-9.60zM812.9 22.6h9.60l4.90 4.90v9.60l-4.90 4.90h-9.60l-4.90 -4.90v-9.60zM828.8 22.4h9.60l4.90 4.90v9.60l-4.90 4.90h-9.60l-4.90 -4.90v-9.60zM844.7 22.2h9.60l4.90 4.90v9.60l-4.90 4.90h-9.60l-4.90 -4.90v-9.60zM860.6 22.1h9.60l4.90 4.90v9.60l-4.90 4.90h-9.60l-4.90 -4.90v-9.60zM876.6 21.9h9.60l4.90 4.90v9.60l-4.90 4.90h-9.60l-4.90 -4.90v-9.60zM892.5 21.7h9.60l4.90 4.90v9.60l-4.90 4.90h-9.60l-4.90 -4.90v-9.60zM908.4 21.5h9.60l4.90 4.90v9.60l-4.90 4.90h-9.60l-4.90 -4.90v-9.60zM924.3 21.2h9.60l4.90 4.90v9.60l-4.90 4.90h-9.60l-4.90 -4.90v-9.60zM940.2 21.0h9.60l4.90 4.90v9.60l-4.90 4.90h-9.60l-4.90 -4.90v-9.60zM956.1 20.7h9.60l4.90 4.90v9.60l-4.90 4.90h-9.60l-4.90 -4.90v-9.60zM972.1 20.4h9.60l4.90 4.90v9.60l-4.90 4.90h-9.60l-4.90 -4.90v-9.60zM988.0 20.1h9.60l4.90 4.90v9.60l-4.90 4.90h-9.60l-4.90 -4.90v-9.60zM1003.9 19.8h9.60l4.90 4.90v9.60l-4.90 4.90h-9.60l-4.90 -4.90v-9.60zM1019.8 19.5h9.60l4.90 4.90v9.60l-4.90 4.90h-9.60l-4.90 -4.90v-9.60z"/><path d="M224.0 31.5h9.60l4.90 4.90v9.60l-4.90 4.90h-9.60l-4.90 -4.90v-9.60zM239.9 31.5h9.60l4.90 4.90v9.60l-4.90 4.90h-9.60l-4.90 -4.90v-9.60zM255.8 31.5h9.60l4.90 4.90v9.60l-4.90 4.90h-9.60l-4.90 -4.90v-9.60zM271.7 31.5h9.60l4.90 4.90v9.60l-4.90 4.90h-9.60l-4.90 -4.90v-9.60zM287.7 31.5h9.60l4.90 4.90v9.60l-4.90 4.90h-9.60l-4.90 -4.90v-9.60zM303.6 31.5h9.60l4.90 4.90v9.60l-4.90 4.90h-9.60l-4.90 -4.90v-9.60zM319.5 31.5h9.60l4.90 4.90v9.60l-4.90 4.90h-9.60l-4.90 -4.90v-9.60zM335.4 31.4h9.60l4.90 4.90v9.60l-4.90 4.90h-9.60l-4.90 -4.90v-9.60zM351.3 31.4h9.60l4.90 4.90v9.60l-4.90 4.90h-9.60l-4.90 -4.90v-9.60zM367.2 31.4h9.60l4.90 4.90v9.60l-4.90 4.90h-9.60l-4.90 -4.90v-9.60zM383.2 31.4h9.60l4.90 4.90v9.60l-4.90 4.90h-9.60l-4.90 -4.90v-9.60zM399.1 31.4h9.60l4.90 4.90v9.60l-4.90 4.90h-9.60l-4.90 -4.90v-9.60zM415.0 31.4h9.60l4.90 4.90v9.60l-4.90 4.90h-9.60l-4.90 -4.90v-9.60zM430.9 31.4h9.60l4.90 4.90v9.60l-4.90 4.90h-9.60l-4.90 -4.90v-9.60zM446.8 31.4h9.60l4.90 4.90v9.60l-4.90 4.90h-9.60l-4.90 -4.90v-9.60zM462.7 31.4h9.60l4.90 4.90v9.60l-4.90 4.90h-9.60l-4.90 -4.90v-9.60zM478.7 31.4h9.60l4.90 4.90v9.60l-4.90 4.90h-9.60l-4.90 -4.90v-9.60zM494.6 31.4h9.60l4.90 4.90v9.60l-4.90 4.90h-9.60l-4.90 -4.90v-9.60zM510.5 31.3h9.60l4.90 4.90v9.60l-4.90 4.90h-9.60l-4.90 -4.90v-9.60zM526.4 31.3h9.60l4.90 4.90v9.60l-4.90 4.90h-9.60l-4.90 -4.90v-9.60zM542.3 31.3h9.60l4.90 4.90v9.60l-4.90 4.90h-9.60l-4.90 -4.90v-9.60zM558.2 31.3h9.60l4.90 4.90v9.60l-4.90 4.90h-9.60l-4.90 -4.90v-9.60zM574.2 31.2h9.60l4.90 4.90v9.60l-4.90 4.90h-9.60l-4.90 -4.90v-9.60zM590.1 31.1h9.60l4.90 4.90v9.60l-4.90 4.90h-9.60l-4.90 -4.90v-9.60zM606.0 31.0h9.60l4.90 4.90v9.60l-4.90 4.90h-9.60l-4.90 -4.90v-9.60zM621.9 30.9h9.60l4.90 4.90v9.60l-4.90 4.90h-9.60l-4.90 -4.90v-9.60zM637.8 30.7h9.60l4.90 4.90v9.60l-4.90 4.90h-9.60l-4.90 -4.90v-9.60zM653.7 30.6h9.60l4.90 4.90v9.60l-4.90 4.90h-9.60l-4.90 -4.90v-9.60zM669.6 30.4h9.60l4.90 4.90v9.60l-4.90 4.90h-9.60l-4.90 -4.90v-9.60zM685.6 30.2h9.60l4.90 4.90v9.60l-4.90 4.90h-9.60l-4.90 -4.90v-9.60zM701.5 30.0h9.60l4.90 4.90v9.60l-4.90 4.90h-9.60l-4.90 -4.90v-9.60zM717.4 29.8h9.60l4.90 4.90v9.60l-4.90 4.90h-9.60l-4.90 -4.90v-9.60zM733.3 29.5h9.60l4.90 4.90v9.60l-4.90 4.90h-9.60l-4.90 -4.90v-9.60zM749.2 29.2h9.60l4.90 4.90v9.60l-4.90 4.90h-9.60l-4.90 -4.90v-9.60zM765.1 28.8h9.60l4.90 4.90v9.60l-4.90 4.90h-9.60l-4.90 -4.90v-9.60zM781.1 28.3h9.60l4.90 4.90v9.60l-4.90 4.90h-9.60l-4.90 -4.90v-9.60zM797.0 27.9h9.60l4.90 4.90v9.60l-4.90 4.90h-9.60l-4.90 -4.90v-9.60zM812.9 27.4h9.60l4.90 4.90v9.60l-4.90 4.90h-9.60l-4.90 -4.90v-9.60zM828.8 26.9h9.60l4.90 4.90v9.60l-4.90 4.90h-9.60l-4.90 -4.90v-9.60zM844.7 26.4h9.60l4.90 4.90v9.60l-4.90 4.90h-9.60l-4.90 -4.90v-9.60zM860.6 25.9h9.60l4.90 4.90v9.60l-4.90 4.90h-9.60l-4.90 -4.90v-9.60zM876.6 25.4h9.60l4.90 4.90v9.60l-4.90 4.90h-9.60l-4.90 -4.90v-9.60zM892.5 24.8h9.60l4.90 4.90v9.60l-4.90 4.90h-9.60l-4.90 -4.90v-9.60zM908.4 24.2h9.60l4.90 4.90v9.60l-4.90 4.90h-9.60l-4.90 -4.90v-9.60zM924.3 23.6h9.60l4.90 4.90v9.60l-4.90 4.90h-9.60l-4.90 -4.90v-9.60zM940.2 23.0h9.60l4.90 4.90v9.60l-4.90 4.90h-9.60l-4.90 -4.90v-9.60zM956.1 22.3h9.60l4.90 4.90v9.60l-4.90 4.90h-9.60l-4.90 -4.90v-9.60zM972.1 21.7h9.60l4.90 4.90v9.60l-4.90 4.90h-9.60l-4.90 -4.90v-9.60zM988.0 21.0h9.60l4.90 4.90v9.60l-4.90 4.90h-9.60l-4.90 -4.90v-9.60zM1003.9 20.2h9.60l4.90 4.90v9.60l-4.90 4.90h-9.60l-4.90 -4.90v-9.60zM1019.8 19.5h9.60l4.90 4.90v9.60l-4.90 4.90h-9.60l-4.90 -4.90v-9.60z"/><path d="M224.0 53.0h9.60l4.90 4.90v9.60l-4.90 4.90h-9.60l-4.90 -4.90v-9.60zM239.9 53.0h9.60l4.90 4.90v9.60l-4.90 4.90h-9.60l-4.90 -4.90v-9.60zM255.8 53.0h9.60l4.90 4.90v9.60l-4.90 4.90h-9.60l-4.90 -4.90v-9.60zM271.7 53.0h9.60l4.90 4.90v9.60l-4.90 4.90h-9.60l-4.90 -4.90v-9.60zM287.7 53.0h9.60l4.90 4.90v9.60l-4.90 4.90h-9.60l-4.90 -4.90v-9.60zM303.6 53.0h9.60l4.90 4.90v9.60l-4.90 4.90h-9.60l-4.90 -4.90v-9.60zM319.5 53.0h9.60l4.90 4.90v9.60l-4.90 4.90h-9.60l-4.90 -4.90v-9.60zM335.4 52.9h9.60l4.90 4.90v9.60l-4.90 4.90h-9.60l-4.90 -4.90v-9.60zM351.3 52.9h9.60l4.90 4.90v9.60l-4.90 4.90h-9.60l-4.90 -4.90v-9.60zM367.2 52.9h9.60l4.90 4.90v9.60l-4.90 4.90h-9.60l-4.90 -4.90v-9.60zM383.2 52.9h9.60l4.90 4.90v9.60l-4.90 4.90h-9.60l-4.90 -4.90v-9.60zM399.1 52.9h9.60l4.90 4.90v9.60l-4.90 4.90h-9.60l-4.90 -4.90v-9.60zM415.0 52.8h9.60l4.90 4.90v9.60l-4.90 4.90h-9.60l-4.90 -4.90v-9.60zM430.9 52.8h9.60l4.90 4.90v9.60l-4.90 4.90h-9.60l-4.90 -4.90v-9.60zM446.8 52.8h9.60l4.90 4.90v9.60l-4.90 4.90h-9.60l-4.90 -4.90v-9.60zM462.7 52.8h9.60l4.90 4.90v9.60l-4.90 4.90h-9.60l-4.90 -4.90v-9.60zM478.7 52.7h9.60l4.90 4.90v9.60l-4.90 4.90h-9.60l-4.90 -4.90v-9.60zM494.6 52.7h9.60l4.90 4.90v9.60l-4.90 4.90h-9.60l-4.90 -4.90v-9.60zM510.5 52.6h9.60l4.90 4.90v9.60l-4.90 4.90h-9.60l-4.90 -4.90v-9.60zM526.4 52.4h9.60l4.90 4.90v9.60l-4.90 4.90h-9.60l-4.90 -4.90v-9.60zM542.3 52.2h9.60l4.90 4.90v9.60l-4.90 4.90h-9.60l-4.90 -4.90v-9.60zM558.2 51.9h9.60l4.90 4.90v9.60l-4.90 4.90h-9.60l-4.90 -4.90v-9.60zM574.2 51.6h9.60l4.90 4.90v9.60l-4.90 4.90h-9.60l-4.90 -4.90v-9.60zM590.1 51.2h9.60l4.90 4.90v9.60l-4.90 4.90h-9.60l-4.90 -4.90v-9.60zM606.0 50.8h9.60l4.90 4.90v9.60l-4.90 4.90h-9.60l-4.90 -4.90v-9.60zM621.9 50.3h9.60l4.90 4.90v9.60l-4.90 4.90h-9.60l-4.90 -4.90v-9.60zM637.8 49.9h9.60l4.90 4.90v9.60l-4.90 4.90h-9.60l-4.90 -4.90v-9.60zM653.7 49.4h9.60l4.90 4.90v9.60l-4.90 4.90h-9.60l-4.90 -4.90v-9.60zM669.6 48.9h9.60l4.90 4.90v9.60l-4.90 4.90h-9.60l-4.90 -4.90v-9.60zM685.6 48.4h9.60l4.90 4.90v9.60l-4.90 4.90h-9.60l-4.90 -4.90v-9.60zM701.5 47.7h9.60l4.90 4.90v9.60l-4.90 4.90h-9.60l-4.90 -4.90v-9.60zM717.4 47.0h9.60l4.90 4.90v9.60l-4.90 4.90h-9.60l-4.90 -4.90v-9.60zM733.3 46.2h9.60l4.90 4.90v9.60l-4.90 4.90h-9.60l-4.90 -4.90v-9.60zM749.2 45.4h9.60l4.90 4.90v9.60l-4.90 4.90h-9.60l-4.90 -4.90v-9.60zM765.1 44.5h9.60l4.90 4.90v9.60l-4.90 4.90h-9.60l-4.90 -4.90v-9.60zM781.1 43.5h9.60l4.90 4.90v9.60l-4.90 4.90h-9.60l-4.90 -4.90v-9.60zM797.0 42.5h9.60l4.90 4.90v9.60l-4.90 4.90h-9.60l-4.90 -4.90v-9.60zM812.9 41.4h9.60l4.90 4.90v9.60l-4.90 4.90h-9.60l-4.90 -4.90v-9.60zM828.8 40.0h9.60l4.90 4.90v9.60l-4.90 4.90h-9.60l-4.90 -4.90v-9.60zM844.7 38.5h9.60l4.90 4.90v9.60l-4.90 4.90h-9.60l-4.90 -4.90v-9.60zM860.6 37.0h9.60l4.90 4.90v9.60l-4.90 4.90h-9.60l-4.90 -4.90v-9.60zM876.6 35.6h9.60l4.90 4.90v9.60l-4.90 4.90h-9.60l-4.90 -4.90v-9.60zM892.5 34.0h9.60l4.90 4.90v9.60l-4.90 4.90h-9.60l-4.90 -4.90v-9.60zM908.4 32.4h9.60l4.90 4.90v9.60l-4.90 4.90h-9.60l-4.90 -4.90v-9.60zM924.3 30.8h9.60l4.90 4.90v9.60l-4.90 4.90h-9.60l-4.90 -4.90v-9.60zM940.2 29.1h9.60l4.90 4.90v9.60l-4.90 4.90h-9.60l-4.90 -4.90v-9.60zM956.1 27.3h9.60l4.90 4.90v9.60l-4.90 4.90h-9.60l-4.90 -4.90v-9.60zM972.1 25.4h9.60l4.90 4.90v9.60l-4.90 4.90h-9.60l-4.90 -4.90v-9.60zM988.0 23.5h9.60l4.90 4.90v9.60l-4.90 4.90h-9.60l-4.90 -4.90v-9.60zM1003.9 21.5h9.60l4.90 4.90v9.60l-4.90 4.90h-9.60l-4.90 -4.90v-9.60zM1019.8 19.5h9.60l4.90 4.90v9.60l-4.90 4.90h-9.60l-4.90 -4.90v-9.60z"/><path d="M224.0 96.7h9.60l4.90 4.90v9.60l-4.90 4.90h-9.60l-4.90 -4.90v-9.60zM239.9 96.6h9.60l4.90 4.90v9.60l-4.90 4.90h-9.60l-4.90 -4.90v-9.60zM255.8 96.5h9.60l4.90 4.90v9.60l-4.90 4.90h-9.60l-4.90 -4.90v-9.60zM271.7 96.4h9.60l4.90 4.90v9.60l-4.90 4.90h-9.60l-4.90 -4.90v-9.60zM287.7 96.3h9.60l4.90 4.90v9.60l-4.90 4.90h-9.60l-4.90 -4.90v-9.60zM303.6 96.1h9.60l4.90 4.90v9.60l-4.90 4.90h-9.60l-4.90 -4.90v-9.60zM319.5 95.9h9.60l4.90 4.90v9.60l-4.90 4.90h-9.60l-4.90 -4.90v-9.60zM335.4 95.8h9.60l4.90 4.90v9.60l-4.90 4.90h-9.60l-4.90 -4.90v-9.60zM351.3 95.5h9.60l4.90 4.90v9.60l-4.90 4.90h-9.60l-4.90 -4.90v-9.60zM367.2 95.3h9.60l4.90 4.90v9.60l-4.90 4.90h-9.60l-4.90 -4.90v-9.60zM383.2 95.1h9.60l4.90 4.90v9.60l-4.90 4.90h-9.60l-4.90 -4.90v-9.60zM399.1 94.9h9.60l4.90 4.90v9.60l-4.90 4.90h-9.60l-4.90 -4.90v-9.60zM415.0 94.6h9.60l4.90 4.90v9.60l-4.90 4.90h-9.60l-4.90 -4.90v-9.60zM430.9 94.3h9.60l4.90 4.90v9.60l-4.90 4.90h-9.60l-4.90 -4.90v-9.60zM446.8 93.9h9.60l4.90 4.90v9.60l-4.90 4.90h-9.60l-4.90 -4.90v-9.60zM462.7 93.5h9.60l4.90 4.90v9.60l-4.90 4.90h-9.60l-4.90 -4.90v-9.60zM478.7 93.1h9.60l4.90 4.90v9.60l-4.90 4.90h-9.60l-4.90 -4.90v-9.60zM494.6 92.7h9.60l4.90 4.90v9.60l-4.90 4.90h-9.60l-4.90 -4.90v-9.60zM510.5 92.2h9.60l4.90 4.90v9.60l-4.90 4.90h-9.60l-4.90 -4.90v-9.60zM526.4 91.6h9.60l4.90 4.90v9.60l-4.90 4.90h-9.60l-4.90 -4.90v-9.60zM542.3 91.0h9.60l4.90 4.90v9.60l-4.90 4.90h-9.60l-4.90 -4.90v-9.60zM558.2 90.2h9.60l4.90 4.90v9.60l-4.90 4.90h-9.60l-4.90 -4.90v-9.60zM574.2 89.4h9.60l4.90 4.90v9.60l-4.90 4.90h-9.60l-4.90 -4.90v-9.60zM590.1 88.4h9.60l4.90 4.90v9.60l-4.90 4.90h-9.60l-4.90 -4.90v-9.60zM606.0 87.3h9.60l4.90 4.90v9.60l-4.90 4.90h-9.60l-4.90 -4.90v-9.60zM621.9 86.2h9.60l4.90 4.90v9.60l-4.90 4.90h-9.60l-4.90 -4.90v-9.60zM637.8 84.9h9.60l4.90 4.90v9.60l-4.90 4.90h-9.60l-4.90 -4.90v-9.60zM653.7 83.5h9.60l4.90 4.90v9.60l-4.90 4.90h-9.60l-4.90 -4.90v-9.60zM669.6 82.0h9.60l4.90 4.90v9.60l-4.90 4.90h-9.60l-4.90 -4.90v-9.60zM685.6 80.3h9.60l4.90 4.90v9.60l-4.90 4.90h-9.60l-4.90 -4.90v-9.60zM701.5 78.5h9.60l4.90 4.90v9.60l-4.90 4.90h-9.60l-4.90 -4.90v-9.60zM717.4 76.5h9.60l4.90 4.90v9.60l-4.90 4.90h-9.60l-4.90 -4.90v-9.60zM733.3 74.2h9.60l4.90 4.90v9.60l-4.90 4.90h-9.60l-4.90 -4.90v-9.60zM749.2 71.8h9.60l4.90 4.90v9.60l-4.90 4.90h-9.60l-4.90 -4.90v-9.60zM765.1 69.3h9.60l4.90 4.90v9.60l-4.90 4.90h-9.60l-4.90 -4.90v-9.60zM781.1 66.7h9.60l4.90 4.90v9.60l-4.90 4.90h-9.60l-4.90 -4.90v-9.60zM797.0 64.1h9.60l4.90 4.90v9.60l-4.90 4.90h-9.60l-4.90 -4.90v-9.60zM812.9 61.5h9.60l4.90 4.90v9.60l-4.90 4.90h-9.60l-4.90 -4.90v-9.60zM828.8 58.7h9.60l4.90 4.90v9.60l-4.90 4.90h-9.60l-4.90 -4.90v-9.60zM844.7 55.9h9.60l4.90 4.90v9.60l-4.90 4.90h-9.60l-4.90 -4.90v-9.60zM860.6 53.0h9.60l4.90 4.90v9.60l-4.90 4.90h-9.60l-4.90 -4.90v-9.60zM876.6 50.0h9.60l4.90 4.90v9.60l-4.90 4.90h-9.60l-4.90 -4.90v-9.60zM892.5 46.9h9.60l4.90 4.90v9.60l-4.90 4.90h-9.60l-4.90 -4.90v-9.60zM908.4 43.7h9.60l4.90 4.90v9.60l-4.90 4.90h-9.60l-4.90 -4.90v-9.60zM924.3 40.4h9.60l4.90 4.90v9.60l-4.90 4.90h-9.60l-4.90 -4.90v-9.60zM940.2 37.0h9.60l4.90 4.90v9.60l-4.90 4.90h-9.60l-4.90 -4.90v-9.60zM956.1 33.7h9.60l4.90 4.90v9.60l-4.90 4.90h-9.60l-4.90 -4.90v-9.60zM972.1 30.2h9.60l4.90 4.90v9.60l-4.90 4.90h-9.60l-4.90 -4.90v-9.60zM988.0 26.7h9.60l4.90 4.90v9.60l-4.90 4.90h-9.60l-4.90 -4.90v-9.60zM1003.9 23.1h9.60l4.90 4.90v9.60l-4.90 4.90h-9.60l-4.90 -4.90v-9.60zM1019.8 19.5h9.60l4.90 4.90v9.60l-4.90 4.90h-9.60l-4.90 -4.90v-9.60z"/><path d="M224.0 225.3h9.60l4.90 4.90v9.60l-4.90 4.90h-9.60l-4.90 -4.90v-9.60zM239.9 225.3h9.60l4.90 4.90v9.60l-4.90 4.90h-9.60l-4.90 -4.90v-9.60zM255.8 225.2h9.60l4.90 4.90v9.60l-4.90 4.90h-9.60l-4.90 -4.90v-9.60zM271.7 225.1h9.60l4.90 4.90v9.60l-4.90 4.90h-9.60l-4.90 -4.90v-9.60zM287.7 225.1h9.60l4.90 4.90v9.60l-4.90 4.90h-9.60l-4.90 -4.90v-9.60zM303.6 225.0h9.60l4.90 4.90v9.60l-4.90 4.90h-9.60l-4.90 -4.90v-9.60zM319.5 224.8h9.60l4.90 4.90v9.60l-4.90 4.90h-9.60l-4.90 -4.90v-9.60zM335.4 224.7h9.60l4.90 4.90v9.60l-4.90 4.90h-9.60l-4.90 -4.90v-9.60zM351.3 224.6h9.60l4.90 4.90v9.60l-4.90 4.90h-9.60l-4.90 -4.90v-9.60zM367.2 224.5h9.60l4.90 4.90v9.60l-4.90 4.90h-9.60l-4.90 -4.90v-9.60zM383.2 224.3h9.60l4.90 4.90v9.60l-4.90 4.90h-9.60l-4.90 -4.90v-9.60zM399.1 224.2h9.60l4.90 4.90v9.60l-4.90 4.90h-9.60l-4.90 -4.90v-9.60zM415.0 224.0h9.60l4.90 4.90v9.60l-4.90 4.90h-9.60l-4.90 -4.90v-9.60zM430.9 223.9h9.60l4.90 4.90v9.60l-4.90 4.90h-9.60l-4.90 -4.90v-9.60zM446.8 223.7h9.60l4.90 4.90v9.60l-4.90 4.90h-9.60l-4.90 -4.90v-9.60zM462.7 223.4h9.60l4.90 4.90v9.60l-4.90 4.90h-9.60l-4.90 -4.90v-9.60zM478.7 223.1h9.60l4.90 4.90v9.60l-4.90 4.90h-9.60l-4.90 -4.90v-9.60zM494.6 222.8h9.60l4.90 4.90v9.60l-4.90 4.90h-9.60l-4.90 -4.90v-9.60zM510.5 222.2h9.60l4.90 4.90v9.60l-4.90 4.90h-9.60l-4.90 -4.90v-9.60zM526.4 221.3h9.60l4.90 4.90v9.60l-4.90 4.90h-9.60l-4.90 -4.90v-9.60zM542.3 220.2h9.60l4.90 4.90v9.60l-4.90 4.90h-9.60l-4.90 -4.90v-9.60zM558.2 218.8h9.60l4.90 4.90v9.60l-4.90 4.90h-9.60l-4.90 -4.90v-9.60zM574.2 217.3h9.60l4.90 4.90v9.60l-4.90 4.90h-9.60l-4.90 -4.90v-9.60zM590.1 215.5h9.60l4.90 4.90v9.60l-4.90 4.90h-9.60l-4.90 -4.90v-9.60zM606.0 213.2h9.60l4.90 4.90v9.60l-4.90 4.90h-9.60l-4.90 -4.90v-9.60zM621.9 210.5h9.60l4.90 4.90v9.60l-4.90 4.90h-9.60l-4.90 -4.90v-9.60zM637.8 207.5h9.60l4.90 4.90v9.60l-4.90 4.90h-9.60l-4.90 -4.90v-9.60zM653.7 204.3h9.60l4.90 4.90v9.60l-4.90 4.90h-9.60l-4.90 -4.90v-9.60zM669.6 200.9h9.60l4.90 4.90v9.60l-4.90 4.90h-9.60l-4.90 -4.90v-9.60zM685.6 197.3h9.60l4.90 4.90v9.60l-4.90 4.90h-9.60l-4.90 -4.90v-9.60zM701.5 193.2h9.60l4.90 4.90v9.60l-4.90 4.90h-9.60l-4.90 -4.90v-9.60zM717.4 188.8h9.60l4.90 4.90v9.60l-4.90 4.90h-9.60l-4.90 -4.90v-9.60zM733.3 183.9h9.60l4.90 4.90v9.60l-4.90 4.90h-9.60l-4.90 -4.90v-9.60zM749.2 178.6h9.60l4.90 4.90v9.60l-4.90 4.90h-9.60l-4.90 -4.90v-9.60zM765.1 172.6h9.60l4.90 4.90v9.60l-4.90 4.90h-9.60l-4.90 -4.90v-9.60zM781.1 164.8h9.60l4.90 4.90v9.60l-4.90 4.90h-9.60l-4.90 -4.90v-9.60zM797.0 157.3h9.60l4.90 4.90v9.60l-4.90 4.90h-9.60l-4.90 -4.90v-9.60zM812.9 150.1h9.60l4.90 4.90v9.60l-4.90 4.90h-9.60l-4.90 -4.90v-9.60zM828.8 142.3h9.60l4.90 4.90v9.60l-4.90 4.90h-9.60l-4.90 -4.90v-9.60zM844.7 133.1h9.60l4.90 4.90v9.60l-4.90 4.90h-9.60l-4.90 -4.90v-9.60zM860.6 123.0h9.60l4.90 4.90v9.60l-4.90 4.90h-9.60l-4.90 -4.90v-9.60zM876.6 112.5h9.60l4.90 4.90v9.60l-4.90 4.90h-9.60l-4.90 -4.90v-9.60zM892.5 101.7h9.60l4.90 4.90v9.60l-4.90 4.90h-9.60l-4.90 -4.90v-9.60zM908.4 90.8h9.60l4.90 4.90v9.60l-4.90 4.90h-9.60l-4.90 -4.90v-9.60zM924.3 79.7h9.60l4.90 4.90v9.60l-4.90 4.90h-9.60l-4.90 -4.90v-9.60zM940.2 68.7h9.60l4.90 4.90v9.60l-4.90 4.90h-9.60l-4.90 -4.90v-9.60zM956.1 58.3h9.60l4.90 4.90v9.60l-4.90 4.90h-9.60l-4.90 -4.90v-9.60zM972.1 48.1h9.60l4.90 4.90v9.60l-4.90 4.90h-9.60l-4.90 -4.90v-9.60zM988.0 38.3h9.60l4.90 4.90v9.60l-4.90 4.90h-9.60l-4.90 -4.90v-9.60zM1003.9 28.7h9.60l4.90 4.90v9.60l-4.90 4.90h-9.60l-4.90 -4.90v-9.60zM1019.8 19.5h9.60l4.90 4.90v9.60l-4.90 4.90h-9.60l-4.90 -4.90v-9.60z"/><path d="M224.0 379.7h9.60l4.90 4.90v9.60l-4.90 4.90h-9.60l-4.90 -4.90v-9.60zM239.9 379.3h9.60l4.90 4.90v9.60l-4.90 4.90h-9.60l-4.90 -4.90v-9.60zM255.8 378.9h9.60l4.90 4.90v9.60l-4.90 4.90h-9.60l-4.90 -4.90v-9.60zM271.7 378.5h9.60l4.90 4.90v9.60l-4.90 4.90h-9.60l-4.90 -4.90v-9.60zM287.7 378.0h9.60l4.90 4.90v9.60l-4.90 4.90h-9.60l-4.90 -4.90v-9.60zM303.6 377.4h9.60l4.90 4.90v9.60l-4.90 4.90h-9.60l-4.90 -4.90v-9.60zM319.5 376.9h9.60l4.90 4.90v9.60l-4.90 4.90h-9.60l-4.90 -4.90v-9.60zM335.4 376.3h9.60l4.90 4.90v9.60l-4.90 4.90h-9.60l-4.90 -4.90v-9.60zM351.3 375.7h9.60l4.90 4.90v9.60l-4.90 4.90h-9.60l-4.90 -4.90v-9.60zM367.2 375.1h9.60l4.90 4.90v9.60l-4.90 4.90h-9.60l-4.90 -4.90v-9.60zM383.2 374.4h9.60l4.90 4.90v9.60l-4.90 4.90h-9.60l-4.90 -4.90v-9.60zM399.1 373.8h9.60l4.90 4.90v9.60l-4.90 4.90h-9.60l-4.90 -4.90v-9.60zM415.0 373.0h9.60l4.90 4.90v9.60l-4.90 4.90h-9.60l-4.90 -4.90v-9.60zM430.9 372.1h9.60l4.90 4.90v9.60l-4.90 4.90h-9.60l-4.90 -4.90v-9.60zM446.8 370.8h9.60l4.90 4.90v9.60l-4.90 4.90h-9.60l-4.90 -4.90v-9.60zM462.7 369.1h9.60l4.90 4.90v9.60l-4.90 4.90h-9.60l-4.90 -4.90v-9.60zM478.7 367.1h9.60l4.90 4.90v9.60l-4.90 4.90h-9.60l-4.90 -4.90v-9.60zM494.6 364.9h9.60l4.90 4.90v9.60l-4.90 4.90h-9.60l-4.90 -4.90v-9.60zM510.5 362.4h9.60l4.90 4.90v9.60l-4.90 4.90h-9.60l-4.90 -4.90v-9.60zM526.4 359.5h9.60l4.90 4.90v9.60l-4.90 4.90h-9.60l-4.90 -4.90v-9.60zM542.3 356.2h9.60l4.90 4.90v9.60l-4.90 4.90h-9.60l-4.90 -4.90v-9.60zM558.2 352.6h9.60l4.90 4.90v9.60l-4.90 4.90h-9.60l-4.90 -4.90v-9.60zM574.2 348.5h9.60l4.90 4.90v9.60l-4.90 4.90h-9.60l-4.90 -4.90v-9.60zM590.1 344.0h9.60l4.90 4.90v9.60l-4.90 4.90h-9.60l-4.90 -4.90v-9.60zM606.0 339.2h9.60l4.90 4.90v9.60l-4.90 4.90h-9.60l-4.90 -4.90v-9.60zM621.9 334.2h9.60l4.90 4.90v9.60l-4.90 4.90h-9.60l-4.90 -4.90v-9.60zM637.8 328.8h9.60l4.90 4.90v9.60l-4.90 4.90h-9.60l-4.90 -4.90v-9.60zM653.7 323.0h9.60l4.90 4.90v9.60l-4.90 4.90h-9.60l-4.90 -4.90v-9.60zM669.6 316.9h9.60l4.90 4.90v9.60l-4.90 4.90h-9.60l-4.90 -4.90v-9.60zM685.6 310.5h9.60l4.90 4.90v9.60l-4.90 4.90h-9.60l-4.90 -4.90v-9.60zM701.5 301.5h9.60l4.90 4.90v9.60l-4.90 4.90h-9.60l-4.90 -4.90v-9.60zM717.4 292.8h9.60l4.90 4.90v9.60l-4.90 4.90h-9.60l-4.90 -4.90v-9.60zM733.3 283.7h9.60l4.90 4.90v9.60l-4.90 4.90h-9.60l-4.90 -4.90v-9.60zM749.2 273.6h9.60l4.90 4.90v9.60l-4.90 4.90h-9.60l-4.90 -4.90v-9.60zM765.1 262.9h9.60l4.90 4.90v9.60l-4.90 4.90h-9.60l-4.90 -4.90v-9.60zM781.1 252.3h9.60l4.90 4.90v9.60l-4.90 4.90h-9.60l-4.90 -4.90v-9.60zM797.0 240.3h9.60l4.90 4.90v9.60l-4.90 4.90h-9.60l-4.90 -4.90v-9.60zM812.9 227.5h9.60l4.90 4.90v9.60l-4.90 4.90h-9.60l-4.90 -4.90v-9.60zM828.8 214.3h9.60l4.90 4.90v9.60l-4.90 4.90h-9.60l-4.90 -4.90v-9.60zM844.7 198.2h9.60l4.90 4.90v9.60l-4.90 4.90h-9.60l-4.90 -4.90v-9.60zM860.6 182.9h9.60l4.90 4.90v9.60l-4.90 4.90h-9.60l-4.90 -4.90v-9.60zM876.6 166.6h9.60l4.90 4.90v9.60l-4.90 4.90h-9.60l-4.90 -4.90v-9.60zM892.5 150.3h9.60l4.90 4.90v9.60l-4.90 4.90h-9.60l-4.90 -4.90v-9.60zM908.4 136.0h9.60l4.90 4.90v9.60l-4.90 4.90h-9.60l-4.90 -4.90v-9.60zM924.3 119.4h9.60l4.90 4.90v9.60l-4.90 4.90h-9.60l-4.90 -4.90v-9.60zM940.2 100.9h9.60l4.90 4.90v9.60l-4.90 4.90h-9.60l-4.90 -4.90v-9.60zM956.1 84.3h9.60l4.90 4.90v9.60l-4.90 4.90h-9.60l-4.90 -4.90v-9.60zM972.1 68.3h9.60l4.90 4.90v9.60l-4.90 4.90h-9.60l-4.90 -4.90v-9.60zM988.0 52.4h9.60l4.90 4.90v9.60l-4.90 4.90h-9.60l-4.90 -4.90v-9.60zM1003.9 36.1h9.60l4.90 4.90v9.60l-4.90 4.90h-9.60l-4.90 -4.90v-9.60zM1019.8 19.5h9.60l4.90 4.90v9.60l-4.90 4.90h-9.60l-4.90 -4.90v-9.60z"/><path d="M224.0 545.3h9.60l4.90 4.90v9.60l-4.90 4.90h-9.60l-4.90 -4.90v-9.60zM239.9 544.8h9.60l4.90 4.90v9.60l-4.90 4.90h-9.60l-4.90 -4.90v-9.60zM255.8 544.0h9.60l4.90 4.90v9.60l-4.90 4.90h-9.60l-4.90 -4.90v-9.60zM271.7 543.1h9.60l4.90 4.90v9.60l-4.90 4.90h-9.60l-4.90 -4.90v-9.60zM287.7 542.0h9.60l4.90 4.90v9.60l-4.90 4.90h-9.60l-4.90 -4.90v-9.60zM303.6 540.8h9.60l4.90 4.90v9.60l-4.90 4.90h-9.60l-4.90 -4.90v-9.60zM319.5 539.4h9.60l4.90 4.90v9.60l-4.90 4.90h-9.60l-4.90 -4.90v-9.60zM335.4 538.0h9.60l4.90 4.90v9.60l-4.90 4.90h-9.60l-4.90 -4.90v-9.60zM351.3 536.5h9.60l4.90 4.90v9.60l-4.90 4.90h-9.60l-4.90 -4.90v-9.60zM367.2 534.9h9.60l4.90 4.90v9.60l-4.90 4.90h-9.60l-4.90 -4.90v-9.60zM383.2 533.1h9.60l4.90 4.90v9.60l-4.90 4.90h-9.60l-4.90 -4.90v-9.60zM399.1 531.1h9.60l4.90 4.90v9.60l-4.90 4.90h-9.60l-4.90 -4.90v-9.60zM415.0 528.8h9.60l4.90 4.90v9.60l-4.90 4.90h-9.60l-4.90 -4.90v-9.60zM430.9 526.3h9.60l4.90 4.90v9.60l-4.90 4.90h-9.60l-4.90 -4.90v-9.60zM446.8 523.6h9.60l4.90 4.90v9.60l-4.90 4.90h-9.60l-4.90 -4.90v-9.60zM462.7 520.6h9.60l4.90 4.90v9.60l-4.90 4.90h-9.60l-4.90 -4.90v-9.60zM478.7 517.5h9.60l4.90 4.90v9.60l-4.90 4.90h-9.60l-4.90 -4.90v-9.60zM494.6 514.0h9.60l4.90 4.90v9.60l-4.90 4.90h-9.60l-4.90 -4.90v-9.60zM510.5 510.0h9.60l4.90 4.90v9.60l-4.90 4.90h-9.60l-4.90 -4.90v-9.60zM526.4 505.5h9.60l4.90 4.90v9.60l-4.90 4.90h-9.60l-4.90 -4.90v-9.60zM542.3 500.6h9.60l4.90 4.90v9.60l-4.90 4.90h-9.60l-4.90 -4.90v-9.60zM558.2 495.0h9.60l4.90 4.90v9.60l-4.90 4.90h-9.60l-4.90 -4.90v-9.60zM574.2 488.5h9.60l4.90 4.90v9.60l-4.90 4.90h-9.60l-4.90 -4.90v-9.60zM590.1 481.5h9.60l4.90 4.90v9.60l-4.90 4.90h-9.60l-4.90 -4.90v-9.60zM606.0 473.5h9.60l4.90 4.90v9.60l-4.90 4.90h-9.60l-4.90 -4.90v-9.60zM621.9 464.8h9.60l4.90 4.90v9.60l-4.90 4.90h-9.60l-4.90 -4.90v-9.60zM637.8 456.5h9.60l4.90 4.90v9.60l-4.90 4.90h-9.60l-4.90 -4.90v-9.60zM653.7 448.9h9.60l4.90 4.90v9.60l-4.90 4.90h-9.60l-4.90 -4.90v-9.60zM669.6 440.0h9.60l4.90 4.90v9.60l-4.90 4.90h-9.60l-4.90 -4.90v-9.60zM685.6 428.8h9.60l4.90 4.90v9.60l-4.90 4.90h-9.60l-4.90 -4.90v-9.60zM701.5 415.8h9.60l4.90 4.90v9.60l-4.90 4.90h-9.60l-4.90 -4.90v-9.60zM717.4 402.4h9.60l4.90 4.90v9.60l-4.90 4.90h-9.60l-4.90 -4.90v-9.60zM733.3 388.0h9.60l4.90 4.90v9.60l-4.90 4.90h-9.60l-4.90 -4.90v-9.60zM749.2 373.6h9.60l4.90 4.90v9.60l-4.90 4.90h-9.60l-4.90 -4.90v-9.60zM765.1 359.6h9.60l4.90 4.90v9.60l-4.90 4.90h-9.60l-4.90 -4.90v-9.60zM781.1 342.7h9.60l4.90 4.90v9.60l-4.90 4.90h-9.60l-4.90 -4.90v-9.60zM797.0 326.7h9.60l4.90 4.90v9.60l-4.90 4.90h-9.60l-4.90 -4.90v-9.60zM812.9 309.2h9.60l4.90 4.90v9.60l-4.90 4.90h-9.60l-4.90 -4.90v-9.60zM828.8 290.1h9.60l4.90 4.90v9.60l-4.90 4.90h-9.60l-4.90 -4.90v-9.60zM844.7 270.9h9.60l4.90 4.90v9.60l-4.90 4.90h-9.60l-4.90 -4.90v-9.60zM860.6 250.8h9.60l4.90 4.90v9.60l-4.90 4.90h-9.60l-4.90 -4.90v-9.60zM876.6 230.1h9.60l4.90 4.90v9.60l-4.90 4.90h-9.60l-4.90 -4.90v-9.60zM892.5 207.7h9.60l4.90 4.90v9.60l-4.90 4.90h-9.60l-4.90 -4.90v-9.60zM908.4 184.8h9.60l4.90 4.90v9.60l-4.90 4.90h-9.60l-4.90 -4.90v-9.60zM924.3 162.4h9.60l4.90 4.90v9.60l-4.90 4.90h-9.60l-4.90 -4.90v-9.60zM940.2 139.1h9.60l4.90 4.90v9.60l-4.90 4.90h-9.60l-4.90 -4.90v-9.60zM956.1 116.8h9.60l4.90 4.90v9.60l-4.90 4.90h-9.60l-4.90 -4.90v-9.60zM972.1 92.2h9.60l4.90 4.90v9.60l-4.90 4.90h-9.60l-4.90 -4.90v-9.60zM988.0 68.6h9.60l4.90 4.90v9.60l-4.90 4.90h-9.60l-4.90 -4.90v-9.60zM1003.9 43.4h9.60l4.90 4.90v9.60l-4.90 4.90h-9.60l-4.90 -4.90v-9.60zM1019.8 19.5h9.60l4.90 4.90v9.60l-4.90 4.90h-9.60l-4.90 -4.90v-9.60z"/></g>
<g font-size="49.5" font-weight="bold" fill="#0a0a0a" transform="scale(1 1.035)"><text x="140.9 168.6 183.4" y="43.6">0.0</text><text x="127.3 140.9 168.6 183.4" y="197.7">-0.5</text><text x="127.3 140.9 168.6 183.4" y="351.8">-1.0</text><text x="127.3 140.9 168.6 183.4" y="506.0">-1.5</text><text x="127.3 140.9 168.6 183.4" y="660.1">-2.0</text><text x="205.8 221.4" y="705.3">-5</text><text x="365.0 380.6" y="705.3">-4</text><text x="524.1 539.7" y="705.3">-3</text><text x="683.3 698.9" y="705.3">-2</text><text x="842.4 858.0" y="705.3">-1</text><text x="1008.6" y="705.3">0</text><text x="624" y="795.6" text-anchor="middle">Drain voltage (V)</text></g>
<text transform="translate(43 408.6) rotate(-90) scale(1 1.035)" text-anchor="middle" letter-spacing="0.2" font-size="49.5" font-weight="bold" fill="#0a0a0a">Drain current density (mA/mm)</text>
<g font-size="40.5" font-weight="bold" fill="#0a0a0a" transform="scale(1 1.04)"><text xml:space="preserve"><tspan x="806.0" y="373.1" font-style="italic">V</tspan><tspan x="830.4" y="385.0" font-size="30.0">g </tspan><tspan x="861.0" y="373.1" stroke="#0a0a0a" stroke-width="1.3">= </tspan><tspan x="895.4" y="373.1">0 </tspan><tspan x="930.6" y="373.1">V</tspan></text><text xml:space="preserve"><tspan x="940.6" y="446.4">-1 </tspan><tspan x="987.8" y="446.4">V</tspan></text><text xml:space="preserve"><tspan x="784.2" y="515.9" font-style="italic">V</tspan><tspan x="810.0" y="527.8" font-size="30.0">g </tspan><tspan x="838.8" y="515.9" stroke="#0a0a0a" stroke-width="1.3">= </tspan><tspan x="875.6" y="515.9">-12 </tspan><tspan x="944.6" y="515.9">V</tspan></text><text xml:space="preserve"><tspan x="390.8" y="596.0" font-style="italic">L</tspan><tspan x="413.2" y="605.4" font-size="30.0">g </tspan><tspan x="444.0" y="596.0" stroke="#0a0a0a" stroke-width="1.3">= </tspan><tspan x="480.0" y="596.0">5 </tspan><tspan x="513.4" y="596.0" font-family="'Liberation Serif', 'DejaVu Serif', serif" font-size="41.0" font-weight="normal" stroke="#0a0a0a" stroke-width="0.45" textLength="25.1" lengthAdjust="spacingAndGlyphs">μ</tspan><tspan x="533.8" y="596.0">m</tspan><tspan x="571.4" y="596.0">, </tspan><tspan x="597.6" y="596.0" font-style="italic">W</tspan><tspan x="635.6" y="605.4" font-size="30.0">g </tspan><tspan x="665.6" y="596.0" stroke="#0a0a0a" stroke-width="1.3">= </tspan><tspan x="700.6" y="596.0">150 </tspan><tspan x="778.2" y="596.0" font-family="'Liberation Serif', 'DejaVu Serif', serif" font-size="41.0" font-weight="normal" stroke="#0a0a0a" stroke-width="0.45" textLength="25.1" lengthAdjust="spacingAndGlyphs">μ</tspan><tspan x="798.8" y="596.0">m</tspan><tspan x="836.8" y="596.0">, </tspan><tspan x="862.6" y="596.0">R</tspan><tspan x="895.2" y="596.0">T</tspan></text></g>
<path d="M881 407.6V486" stroke="#0a0a0a" stroke-width="5.4" fill="none"/>
<path d="M865.6 468.6L881.2 485.9L899.2 465.8" stroke="#0a0a0a" stroke-width="4.6" fill="none" stroke-linejoin="miter" stroke-linecap="butt"/>
<path d="M900.5 467.4L937.6 432.2V467.4Z" stroke="#0a0a0a" stroke-width="1.8" fill="none" stroke-linejoin="miter"/></svg>
</body>
</html>
